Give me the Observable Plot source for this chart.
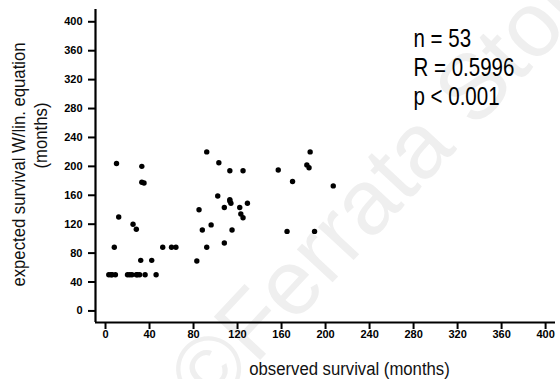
<!DOCTYPE html>
<html>
<head>
<meta charset="utf-8">
<script src="https://cdn.jsdelivr.net/npm/d3@7"></script>
<script src="https://cdn.jsdelivr.net/npm/@observablehq/plot@0.6"></script>
<style>
  html, body { margin: 0; padding: 0; background: #fff; }
  #chart { width: 560px; height: 379px; }
</style>
</head>
<body>
<div id="chart"></div>
<script>
// observed survival (months)
const observed = [
  10, 33, 33, 35, 12, 25, 28, 8, 52, 60, 64, 32, 42,
  3, 6, 9, 20, 24, 28, 31, 36, 46, 5, 22, 29,
  92, 103, 113, 125, 102, 113, 114, 85, 108, 122, 129, 123, 125,
  88, 96, 115, 92, 108, 83, 113,
  186, 157, 183, 185, 170, 207, 165, 190
];
// expected survival with linear equation (months)
const expected = [
  204, 200, 178, 177, 130, 120, 113, 88, 88, 88, 88, 70, 70,
  50, 50, 50, 50, 50, 50, 50, 50, 50, 50, 50, 50,
  220, 205, 194, 194, 159, 154, 149, 140, 143, 143, 149, 134, 129,
  112, 119, 112, 88, 94, 69, 152,
  220, 195, 202, 198, 179, 173, 110, 110
];
const xTicks = [0, 40, 80, 120, 160, 200, 240, 280, 320, 360, 400];
const yTicks = [0, 40, 80, 120, 160, 200, 240, 280, 320, 360, 400];
const statsText = ["n = 53", "R = 0.5996", "p < 0.001"];
const xLabel = "observed survival (months)";
const yLabel1 = "expected survival W/lin. equation";
const yLabel2 = "(months)";
const watermark = "©Ferrata Storti";

const points = observed.map((x, i) => ({x, y: expected[i]}));
const xDomain = [-9.1, 409];
const yDomain = [-16, 417];
const FONT = "'Liberation Sans', Arial, Helvetica, sans-serif";

// horizontally condense text (narrow typeface look)
const condense = (k) => (index, scales, values, dims, context, next) => {
  const g = next(index, scales, values, dims, context);
  d3.select(g).selectAll("text").attr("transform", function () {
    return ((this.getAttribute("transform") || "") + ` scale(${k},1)`).trim();
  });
  return g;
};

const chart = Plot.plot({
  width: 560,
  height: 379,
  marginLeft: 95,
  marginRight: 5,
  marginTop: 9,
  marginBottom: 57,
  style: {fontFamily: FONT, background: "#fff"},
  x: {domain: xDomain},
  y: {domain: yDomain},
  marks: [
    Plot.text([watermark], {
      frameAnchor: "middle", dx: 68, dy: 8, rotate: -47,
      fontSize: 92, fill: "#efefef", fontFamily: FONT
    }),
    Plot.axisX({
      ticks: xTicks, tickSize: 7, tickPadding: 1, tickFormat: d => d,
      fontSize: 11, fontWeight: "bold", strokeWidth: 2, label: null, fill: "black"
    }),
    Plot.axisY({
      ticks: yTicks, tickSize: 7, tickPadding: 6, tickFormat: d => d,
      fontSize: 11, fontWeight: "bold", strokeWidth: 2, label: null, fill: "black"
    }),
    Plot.ruleX([xDomain[0]], {stroke: "black", strokeWidth: 2.2}),
    Plot.ruleY([yDomain[0]], {stroke: "black", strokeWidth: 2.2}),
    Plot.dot(points, {x: "x", y: "y", r: 2.7, fill: "black", stroke: "none"}),
    Plot.text([statsText.join("\n")], {
      frameAnchor: "top-left", dx: 318, dy: 16.5, textAnchor: "start",
      lineAnchor: "top", lineHeight: 1.17, fontSize: 25, fill: "black",
      fontFamily: FONT, render: condense(0.82)
    }),
    Plot.text([xLabel], {
      frameAnchor: "bottom", lineAnchor: "middle", dx: 24, dy: 46.5,
      fontSize: 19, fill: "#111", fontFamily: FONT, render: condense(0.88)
    }),
    Plot.text([yLabel1], {
      frameAnchor: "left", textAnchor: "middle", lineAnchor: "middle",
      dx: -77, dy: -1.5, rotate: -90,
      fontSize: 19, fill: "#111", fontFamily: FONT, render: condense(0.88)
    }),
    Plot.text([yLabel2], {
      frameAnchor: "left", textAnchor: "middle", lineAnchor: "middle",
      dx: -55, dy: -30.5, rotate: -90,
      fontSize: 19, fill: "#111", fontFamily: FONT, render: condense(0.88)
    })
  ]
});
document.getElementById("chart").appendChild(chart);
</script>
</body>
</html>
